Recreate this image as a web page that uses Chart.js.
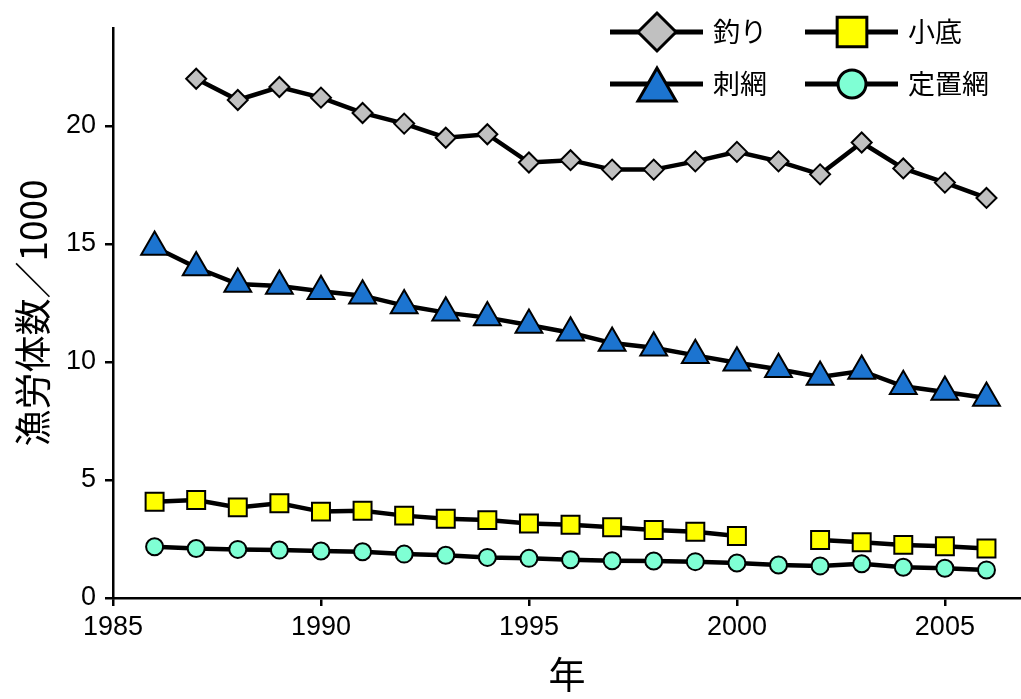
<!DOCTYPE html>
<html>
<head>
<meta charset="utf-8">
<script src="https://cdn.jsdelivr.net/npm/chart.js@4"></script>
<style>
  html, body { margin: 0; padding: 0; background: #fff; }
  #wrap { width: 1021px; height: 699px; position: relative; }
</style>
</head>
<body>
<div id="wrap"><canvas id="fishChart"></canvas></div>
<script>
const years = [1986, 1987, 1988, 1989, 1990, 1991, 1992, 1993, 1994, 1995, 1996,
               1997, 1998, 1999, 2000, 2001, 2002, 2003, 2004, 2005, 2006];

const turi    = [null, 22.0, 21.1, 21.65, 21.2, 20.55, 20.1, 19.5, 19.65, 18.45, 18.55,
                 18.15, 18.15, 18.5, 18.9, 18.5, 17.95, 19.3, 18.2, 17.6, 16.95];
const sasiami = [14.87, 14.0, 13.3, 13.22, 13.0, 12.81, 12.39, 12.09, 11.88, 11.57, 11.24,
                 10.8, 10.6, 10.28, 9.97, 9.69, 9.36, 9.62, 8.97, 8.73, 8.47];
const kosoko  = [4.08, 4.15, 3.84, 4.01, 3.66, 3.7, 3.49, 3.36, 3.3, 3.16, 3.1,
                 3.0, 2.88, 2.81, 2.63, null, 2.46, 2.36, 2.25, 2.19, 2.1];
const teichi  = [2.17, 2.1, 2.06, 2.03, 1.99, 1.96, 1.86, 1.81, 1.72, 1.68, 1.62,
                 1.58, 1.57, 1.54, 1.48, 1.4, 1.36, 1.45, 1.3, 1.26, 1.19];

const seriesNames = ['釣り', '刺網', '小底', '定置網'];
const xTicks = [1985, 1990, 1995, 2000, 2005];
const yTicks = [0, 5, 10, 15, 20];

const tickFont = { family: "'Liberation Sans', Arial, sans-serif", size: 27 };
const cjkFont = "'Noto Sans CJK JP', 'Noto Sans CJK SC', sans-serif";

const styles = [
    { pointStyle: 'rectRot',  radius: 10,   fill: '#c0c0c0' },
    { pointStyle: 'triangle', radius: 15.5, fill: '#1c74d0' },
    { pointStyle: 'rect',     radius: 12.7, fill: '#ffff00' },
    { pointStyle: 'circle',   radius: 8.5,  fill: '#7fffd4' }
];
const allValues = [turi, sasiami, kosoko, teichi];

const datasets = allValues.map((vals, i) => ({
    label: seriesNames[i],
    data: years.map((yr, j) => ({ x: yr, y: vals[j] })),
    borderColor: '#000',
    borderWidth: 4.5,
    pointStyle: styles[i].pointStyle,
    pointRadius: styles[i].radius,
    pointBackgroundColor: styles[i].fill,
    pointBorderColor: '#000',
    pointBorderWidth: 2,
    spanGaps: false,
    tension: 0,
    clip: false
}));

// legend: line + marker, two columns
const legendPlugin = {
    id: 'lineLegend',
    afterDraw(chart) {
        const ctx = chart.ctx;
        const spots = [
            { x: 610, y: 32, tx: 713 },
            { x: 610, y: 84, tx: 713 },
            { x: 805, y: 32, tx: 908 },
            { x: 805, y: 84, tx: 908 }
        ];
        const sizes = [19, 22, 21, 14];
        ctx.save();
        spots.forEach((s, i) => {
            ctx.strokeStyle = '#000';
            ctx.lineWidth = 5;
            ctx.beginPath();
            ctx.moveTo(s.x, s.y);
            ctx.lineTo(s.x + 93, s.y);
            ctx.stroke();
            ctx.fillStyle = styles[i].fill;
            ctx.strokeStyle = '#000';
            ctx.lineWidth = 3;
            const cy = styles[i].pointStyle === 'triangle' ? s.y + 6 : s.y;
            Chart.helpers.drawPoint(ctx, {
                pointStyle: styles[i].pointStyle,
                radius: sizes[i],
                rotation: 0,
                borderWidth: 3
            }, s.x + 47, cy);
            ctx.fillStyle = '#000';
            ctx.font = '27px ' + cjkFont;
            ctx.textBaseline = 'middle';
            ctx.textAlign = 'left';
            ctx.fillText(seriesNames[i], s.tx, s.y);
        });
        ctx.restore();
    }
};

const ctx = document.getElementById('fishChart').getContext('2d');
const fishChart = new Chart(ctx, {
    type: 'line',
    data: { datasets: datasets },
    options: {
        responsive: true,
        maintainAspectRatio: false,
        animation: false,
        layout: { autoPadding: false, padding: { top: 28, right: 0, left: 0, bottom: 0 } },
        plugins: {
            legend: { display: false },
            tooltip: { enabled: false }
        },
        scales: {
            x: {
                type: 'linear',
                min: 1985,
                max: 2006.83,
                afterFit: (scale) => {
                    scale.height = 101;
                    scale.paddingLeft = 0;
                    scale.paddingRight = 0;
                },
                afterBuildTicks: (scale) => { scale.ticks = xTicks.map(v => ({ value: v })); },
                border: { color: '#000', width: 2.5 },
                grid: { drawOnChartArea: false, color: '#000', lineWidth: 2.5, tickLength: 8 },
                ticks: { color: '#000', font: tickFont, padding: 5, maxRotation: 0, autoSkip: false,
                         callback: (v) => String(v) },
                title: { display: true, text: '年', color: '#000',
                         font: { family: cjkFont, size: 37 }, padding: { top: 0, bottom: 2 } }
            },
            y: {
                type: 'linear',
                min: 0,
                max: 24.15,
                afterFit: (scale) => {
                    scale.width = 113;
                    scale.paddingTop = 0;
                    scale.paddingBottom = 0;
                },
                afterBuildTicks: (scale) => { scale.ticks = yTicks.map(v => ({ value: v })); },
                border: { color: '#000', width: 2.5 },
                grid: { drawOnChartArea: false, color: '#000', lineWidth: 2.5, tickLength: 8 },
                ticks: { color: '#000', font: tickFont, padding: 9 },
                title: { display: true, text: '漁労体数／1000', color: '#000',
                         font: { family: cjkFont, size: 37 }, padding: { top: 11, bottom: 0 } }
            }
        }
    },
    plugins: [legendPlugin]
});
</script>
</body>
</html>
